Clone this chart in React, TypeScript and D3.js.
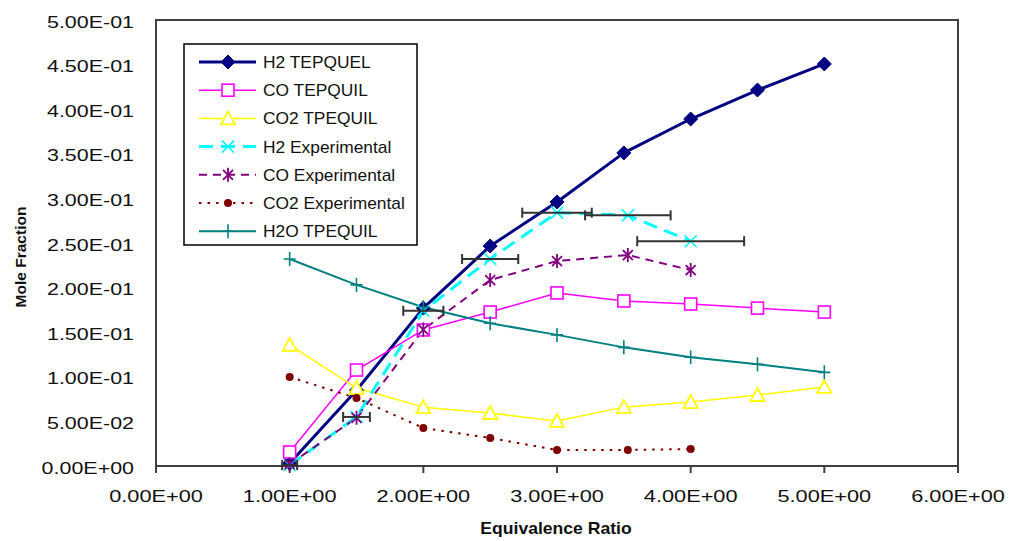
import React from 'react';
import * as d3 from 'd3';

const xTicks = [0, 1, 2, 3, 4, 5, 6];
const yTicks = [0, 0.05, 0.1, 0.15, 0.2, 0.25, 0.3, 0.35, 0.4, 0.45, 0.5];

const equilX = [1, 1.5, 2, 2.5, 3, 3.5, 4, 4.5, 5];
const expX = [1, 1.5, 2, 2.5, 3, 3.53, 4];

const h2Equil = [0.003, 0.085, 0.177, 0.2466, 0.296, 0.351, 0.389, 0.4215, 0.4507];
const coEquil = [0.0157, 0.1076, 0.1525, 0.1726, 0.194, 0.185, 0.1816, 0.177, 0.1726];
const co2Equil = [0.1357, 0.0874, 0.066, 0.0594, 0.0505, 0.066, 0.0717, 0.0796, 0.0886];
const h2Exp = [0.001, 0.055, 0.174, 0.232, 0.284, 0.281, 0.252];
const coExp = [0.002, 0.054, 0.153, 0.2085, 0.2298, 0.2365, 0.2197];
const co2Exp = [0.0998, 0.0762, 0.0426, 0.0314, 0.018, 0.018, 0.019];
const h2oEquil = [0.232, 0.203, 0.178, 0.16, 0.147, 0.133, 0.122, 0.114, 0.105];
const h2ExpErr = [0.056, 0.1, 0.15, 0.21, 0.26, 0.32, 0.4];

const seriesNames = [
  'H2 TEPQUEL',
  'CO TEPQUIL',
  'CO2 TPEQUIL',
  'H2 Experimental',
  'CO Experimental',
  'CO2 Experimental',
  'H2O TPEQUIL',
];

type Marker = 'diamond' | 'square' | 'triangle' | 'x' | 'star' | 'circle' | 'plus';

interface Series {
  name: string;
  xs: number[];
  ys: number[];
  color: string;
  width: number;
  dash?: string;
  marker: Marker;
}

const series: Series[] = [
  { name: seriesNames[0], xs: equilX, ys: h2Equil, color: '#000080', width: 3, marker: 'diamond' },
  { name: seriesNames[1], xs: equilX, ys: coEquil, color: '#FF00FF', width: 1.5, marker: 'square' },
  { name: seriesNames[2], xs: equilX, ys: co2Equil, color: '#FFFF00', width: 1.5, marker: 'triangle' },
  { name: seriesNames[3], xs: expX, ys: h2Exp, color: '#00FFFF', width: 3, dash: '14,8', marker: 'x' },
  { name: seriesNames[4], xs: expX, ys: coExp, color: '#800080', width: 2, dash: '8,6', marker: 'star' },
  { name: seriesNames[5], xs: expX, ys: co2Exp, color: '#800000', width: 2, dash: '2.5,6', marker: 'circle' },
  { name: seriesNames[6], xs: equilX, ys: h2oEquil, color: '#008080', width: 2, marker: 'plus' },
];

const W = 1009;
const H = 541;
const M = { left: 156, right: 958, top: 20, bottom: 466 };
const FONT = '"Liberation Sans", Arial, sans-serif';

function fmtE(v: number): string {
  if (v === 0) return '0.00E+00';
  const e = Math.floor(Math.log10(v) + 1e-9);
  const m = v / Math.pow(10, e);
  const sign = e < 0 ? '-' : '+';
  const a = Math.abs(e);
  return m.toFixed(2) + 'E' + sign + (a < 10 ? '0' + a : String(a));
}

function MarkerShape({ type, color }: { type: Marker; color: string }) {
  switch (type) {
    case 'diamond':
      return <path d="M0,-7L7,0L0,7L-7,0Z" fill={color} stroke={color} strokeWidth={1} />;
    case 'square':
      return <rect x={-6} y={-6} width={12} height={12} fill="#fff" stroke={color} strokeWidth={1.6} />;
    case 'triangle':
      return <path d="M0,-7L7,6L-7,6Z" fill="#fff" stroke={color} strokeWidth={1.8} />;
    case 'x':
      return <path d="M-6,-6L6,6M-6,6L6,-6" fill="none" stroke={color} strokeWidth={1.6} />;
    case 'star':
      return <path d="M-5,-5L5,5M-5,5L5,-5M0,-7L0,7" fill="none" stroke={color} strokeWidth={1.8} />;
    case 'circle':
      return <circle r={4} fill={color} />;
    case 'plus':
      return <path d="M-6,0L6,0M0,-7L0,7" fill="none" stroke={color} strokeWidth={1.6} />;
  }
}

export default function App() {
  const x = d3.scaleLinear().domain([0, 6]).range([M.left, M.right]);
  const y = d3.scaleLinear().domain([0, 0.5]).range([M.bottom, M.top]);

  const lineGen = d3
    .line<[number, number]>()
    .x((d) => x(d[0]))
    .y((d) => y(d[1]));

  const legendX = 184;
  const legendY = 44;
  const rowY0 = 62;
  const rowStep = 28.2;

  return (
    <svg
      width={W}
      height={H}
      style={{ position: 'absolute', left: 0, top: 0, background: '#fff' }}
      fontFamily={FONT}
    >
      <rect x={0} y={0} width={W} height={H} fill="#fff" />

      {/* plot frame */}
      <rect
        x={M.left}
        y={M.top}
        width={M.right - M.left}
        height={M.bottom - M.top}
        fill="none"
        stroke="#404040"
        strokeWidth={2}
      />

      {/* x ticks */}
      {xTicks.map((t) => (
        <line key={'xt' + t} x1={x(t)} x2={x(t)} y1={M.bottom} y2={M.bottom + 7} stroke="#404040" strokeWidth={2} />
      ))}

      {/* y tick labels */}
      {yTicks.map((t) => (
        <text
          key={'yl' + t}
          transform={`translate(134,${y(t) + 7.5}) scale(1.3,1)`}
          textAnchor="end"
          fontSize={16.5}
          fill="#111"
        >
          {fmtE(t)}
        </text>
      ))}

      {/* x tick labels */}
      {xTicks.map((t) => (
        <text
          key={'xl' + t}
          transform={`translate(${x(t)},502) scale(1.28,1)`}
          textAnchor="middle"
          fontSize={17}
          fill="#111"
        >
          {fmtE(t)}
        </text>
      ))}

      {/* axis titles */}
      <text
        transform="translate(556,534) scale(1.1,1)"
        textAnchor="middle"
        fontSize={16}
        fontWeight="bold"
        fill="#111"
      >
        Equivalence Ratio
      </text>
      <text
        transform="translate(26,257) rotate(-90)"
        textAnchor="middle"
        fontSize={15.5}
        fontWeight="bold"
        fill="#111"
      >
        Mole Fraction
      </text>

      {/* series lines */}
      {series.map((s) => (
        <path
          key={'l' + s.name}
          d={lineGen(s.xs.map((xv, i) => [xv, s.ys[i]] as [number, number])) || ''}
          fill="none"
          stroke={s.color}
          strokeWidth={s.width}
          strokeDasharray={s.dash}
          strokeLinejoin="round"
        />
      ))}

      {/* markers */}
      {series.map((s) =>
        s.xs.map((xv, i) => (
          <g key={'m' + s.name + i} transform={`translate(${x(xv)},${y(s.ys[i])})`}>
            <MarkerShape type={s.marker} color={s.color} />
          </g>
        ))
      )}

      {/* error bars on H2 experimental */}
      {expX.map((xv, i) => {
        const yy = y(h2Exp[i]);
        const x1 = x(xv - h2ExpErr[i]);
        const x2 = x(xv + h2ExpErr[i]);
        return (
          <g key={'eb' + i} stroke="#333" strokeWidth={2}>
            <line x1={x1} x2={x2} y1={yy} y2={yy} />
            <line x1={x1} x2={x1} y1={yy - 5} y2={yy + 5} />
            <line x1={x2} x2={x2} y1={yy - 5} y2={yy + 5} />
          </g>
        );
      })}

      {/* legend */}
      <rect x={legendX} y={legendY} width={233} height={201} fill="#fff" stroke="#000" strokeWidth={1.5} />
      {series.map((s, i) => {
        const ry = rowY0 + i * rowStep;
        return (
          <g key={'lg' + s.name}>
            <line
              x1={199}
              x2={256}
              y1={ry}
              y2={ry}
              stroke={s.color}
              strokeWidth={s.width}
              strokeDasharray={s.dash}
            />
            <g transform={`translate(228,${ry})`}>
              <MarkerShape type={s.marker} color={s.color} />
            </g>
            <text
              transform={`translate(263,${ry + 6}) scale(1.1,1)`}
              fontSize={15.8}
              fill="#111"
            >
              {s.name}
            </text>
          </g>
        );
      })}
    </svg>
  );
}
